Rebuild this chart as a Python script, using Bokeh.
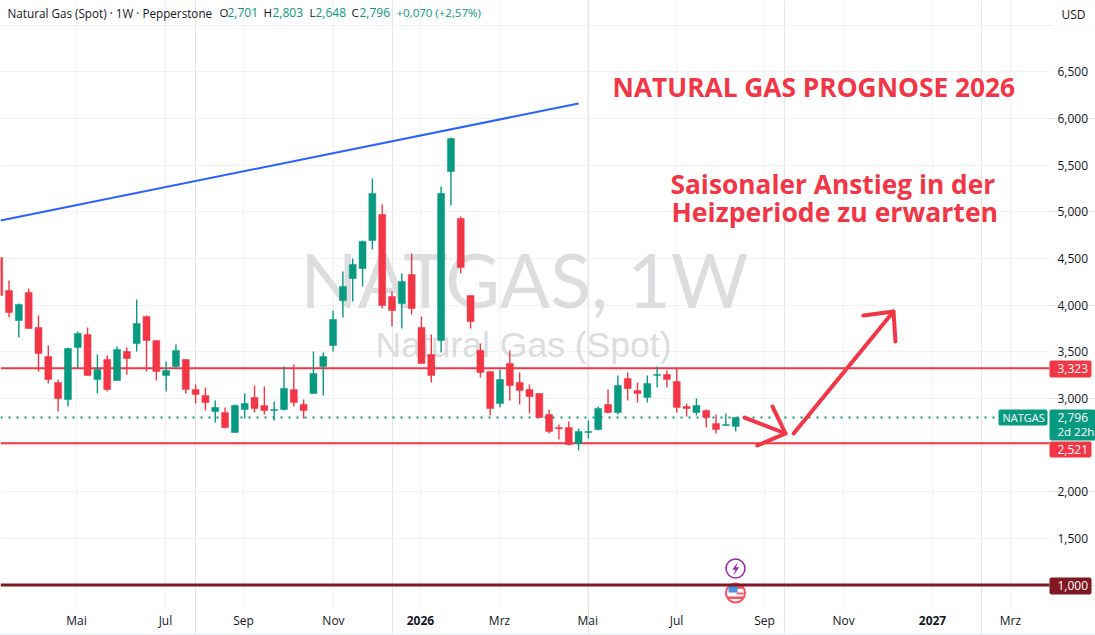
from bokeh.plotting import figure
from bokeh.models import (Label, BoxAnnotation, LinearAxis, FixedTicker, Range1d, Grid,
                          ColumnDataSource)
from bokeh.embed import file_html
from bokeh.resources import INLINE

FONT = "Open Sans"
GREEN = "#089981"
RED = "#f23645"
DARK = "#801922"

# Weekly candles, oldest first
opens = [4.511,4.158,3.836,4.136,3.761,3.450,3.171,2.989,3.547,3.686,3.204,3.418,3.193,3.504,3.590,3.879,3.622,3.247,3.343,3.418,
         3.096,3.032,2.861,2.850,2.636,2.882,3.011,2.925,2.871,2.882,3.096,2.936,3.054,3.343,3.568,4.050,4.286,4.393,4.694,4.972,
         4.093,4.018,4.329,3.761,3.472,3.622,5.433,4.929,4.104,3.515,3.289,2.946,3.375,3.172,3.096,3.054,2.828,2.689,2.689,2.518,
         2.636,2.668,2.936,2.850,3.214,3.086,3.011,3.247,3.257,3.182,2.914,2.850,2.871,2.732,2.711,2.701]
highs = [4.511,4.265,4.018,4.179,3.890,3.568,3.204,3.547,3.718,3.761,3.472,3.461,3.557,3.547,4.061,3.890,3.622,3.397,3.579,3.418,
         3.150,3.118,2.979,2.904,2.936,3.054,3.139,3.129,2.968,3.343,3.364,2.989,3.504,3.493,3.943,4.361,4.501,4.694,5.358,5.079,
         4.147,4.340,4.554,3.879,3.686,5.272,5.798,4.951,4.104,3.590,3.289,3.311,3.515,3.279,3.150,3.054,2.882,2.721,2.753,2.678,
         2.764,2.914,3.096,3.247,3.279,3.172,3.247,3.343,3.300,3.322,2.946,3.000,2.882,2.828,2.839,2.803]
lows = [4.104,3.872,3.654,3.750,3.289,3.161,2.861,2.914,3.322,3.247,3.054,3.075,3.193,3.257,3.504,3.289,3.193,3.075,3.322,3.054,
        2.946,2.871,2.743,2.678,2.636,2.786,2.850,2.828,2.764,2.871,2.914,2.786,3.054,3.032,3.504,3.868,4.040,4.201,4.597,3.965,
        3.772,3.750,3.900,3.375,3.172,3.493,5.069,4.340,3.750,3.225,2.818,2.904,2.979,2.936,2.839,2.786,2.625,2.561,2.496,2.443,
        2.571,2.657,2.839,2.828,2.979,2.957,2.957,3.118,3.118,2.850,2.807,2.818,2.689,2.625,2.711,2.648]
closes = [4.104,3.922,4.008,3.750,3.482,3.204,3.000,3.536,3.697,3.247,3.311,3.096,3.525,3.429,3.804,3.622,3.289,3.300,3.515,3.096,
          3.043,2.957,2.904,2.689,2.925,2.946,2.893,2.871,2.882,3.107,2.957,2.871,3.268,3.450,3.847,4.201,4.436,4.683,5.197,3.997,
          3.943,4.254,3.965,3.375,3.247,5.197,5.787,4.404,3.825,3.279,2.893,3.204,3.139,3.086,3.021,2.796,2.646,2.675,2.507,2.646,
          2.646,2.893,2.850,3.139,3.107,3.054,3.161,3.257,3.204,2.904,2.893,2.925,2.796,2.668,2.721,2.796]
weeks = list(range(len(opens)))

# Levels
resistance = 3.323
support = 2.521
floor_level = 1.000
last_price = 2.796

# Axis ticks
price_ticks = [1.0,1.5,2.0,2.5,3.0,3.5,4.0,4.5,5.0,5.5,6.0,6.5,7.0]
price_labels = {1.0:"",1.5:"1,500",2.0:"2,000",2.5:"",3.0:"3,000",3.5:"3,500",4.0:"4,000",4.5:"4,500",5.0:"5,000",
                5.5:"5,500",6.0:"6,000",6.5:"6,500",7.0:""}
month_ticks = [7.87,16.93,24.88,34.04,42.9,50.95,59.94,68.97,77.93,85.98,95.04,102.98]
month_labels = ["Mai","Jul","Sep","Nov","","Mrz","Mai","Jul","Sep","Nov","","Mrz"]
year_ticks = [42.9,95.04]
year_labels = ["2026","2027"]

# Drawings (week, price)
trend_x = [0.132,59.0]
trend_y = [4.908,6.162]
arrow_xs = [[75.9,80.07],[78.75,80.07,77.2],[80.9,91.07],[88.0,91.07,91.27]]
arrow_ys = [[2.796,2.625],[2.914,2.625,2.496],[2.625,3.932],[3.890,3.932,3.611]]

# Event markers
event_x = 74.98
bolt_event_y = 1.178
flag_event_y = 0.915
bolt_x = [75.25,74.65,74.98,74.75,75.35,75.02]
bolt_y = [1.250,1.165,1.165,1.100,1.190,1.190]
stripe_left = [75.1,75.1,74.2]
stripe_right = [75.8,75.8,75.8]
stripe_bottom = [0.960,0.900,0.851]
stripe_top = [0.987,0.920,0.878]
canton = [74.27,75.18,0.920,1.010]

W, H = 1095, 635
X0, X1 = 0.132, 111.64
Y0, Y1 = 0.4598, 7.266
X_SCALE_END = 106.95     # week at the left edge of the price scale
Y_SCALE_END = 0.7706     # price at the top edge of the time scale

p = figure(width=W, height=H, x_range=Range1d(X0, X1), y_range=Range1d(Y0, Y1),
           output_backend="svg", toolbar_location=None, x_axis_location=None, y_axis_location=None,
           min_border=0, background_fill_color="white", border_fill_color="white", outline_line_color=None)

yaxis = LinearAxis(ticker=FixedTicker(ticks=price_ticks), major_label_overrides=price_labels,
                   fixed_location=X_SCALE_END, major_tick_in=0, major_tick_out=0,
                   axis_line_color=None, major_tick_line_color=None, minor_tick_line_color=None,
                   major_label_text_font=FONT, major_label_text_font_size="12px",
                   major_label_text_color="#131722", major_label_standoff=8)
xaxis = LinearAxis(ticker=FixedTicker(ticks=month_ticks),
                   major_label_overrides=dict(zip(month_ticks, month_labels)),
                   fixed_location=Y_SCALE_END, major_tick_in=0, major_tick_out=0,
                   axis_line_color=None, major_tick_line_color=None, minor_tick_line_color=None,
                   major_label_text_font=FONT, major_label_text_font_size="12px",
                   major_label_text_color="#131722", major_label_standoff=5)
p.add_layout(yaxis, "right")
p.add_layout(xaxis, "below")

p.add_layout(Grid(dimension=0, ticker=xaxis.ticker, grid_line_color="#f1f2f4", grid_line_width=1,
                  cross_bounds=(Y_SCALE_END, Y1)))
p.add_layout(Grid(dimension=1, ticker=yaxis.ticker, grid_line_color="#f1f2f4", grid_line_width=1,
                  cross_bounds=(X0, X_SCALE_END)))

def sy(py):
    return H - py

def lab(text, px, py, size=12, color="#131722", align="left", bold=False, font=FONT, level="annotation", **kw):
    l = Label(x=px, y=sy(py), x_units="screen", y_units="screen", text=text, text_font=font,
              text_font_size=f"{size}px", text_color=color, text_align=align, text_baseline="middle",
              text_font_style="bold" if bold else "normal", level=level, **kw)
    p.add_layout(l)
    return l

# Watermark
lab("NATGAS, 1W", 524, 278, size=75, color="#dcddde", align="center", font="Lato", level="underlay")
lab("Natural Gas (Spot)", 523, 344, size=35.5, color="#dcddde", align="center", font="Liberation Sans", level="underlay")

# Levels below candles
p.segment(x0=[X0, X0], x1=[X_SCALE_END, X_SCALE_END], y0=[resistance, support], y1=[resistance, support],
          line_color=RED, line_width=2)
p.segment(x0=[X0], x1=[101.5], y0=[last_price], y1=[last_price], line_color=GREEN, line_width=2, line_dash="2 6")

# Candles
src = ColumnDataSource(dict(x=weeks, o=opens, h=highs, l=lows, c=closes,
                            col=[GREEN if c >= o else RED for o, c in zip(opens, closes)]))
p.segment("x", "h", "x", "l", source=src, line_color="col", line_width=1.4)
p.vbar("x", 0.71, "o", "c", source=src, fill_color="col", line_color="col", line_width=0.5)

# Trend and arrows
p.line(trend_x, trend_y, line_color="#2962ff", line_width=2)
p.multi_line(arrow_xs, arrow_ys, line_color=RED, line_width=4, line_cap="round", line_join="round")

# Event markers
p.scatter([event_x], [bolt_event_y], size=19, marker="circle", fill_color="white", line_color="#9c27b0", line_width=1.6)
p.patch(bolt_x, bolt_y, fill_color="#9c27b0", line_color=None)
p.scatter([event_x], [flag_event_y], size=19, marker="circle", fill_color="white", line_color="#f7525f", line_width=2)
p.quad(left=stripe_left, right=stripe_right, bottom=stripe_bottom, top=stripe_top, fill_color="#f7525f", line_color=None)
p.quad(left=[canton[0]], right=[canton[1]], bottom=[canton[2]], top=[canton[3]], fill_color="#4a90e2", line_color=None)
p.segment(x0=[X0], x1=[X_SCALE_END], y0=[floor_level], y1=[floor_level], line_color=DARK, line_width=3)

# Year labels on the time axis
for xv, t in zip(year_ticks, year_labels):
    p.add_layout(Label(x=xv, y=sy(620), x_units="data", y_units="screen", text=t, text_font=FONT,
                       text_font_size="12px", text_font_style="bold", text_color="#131722",
                       text_align="center", text_baseline="middle"))

# Header
lab("Natural Gas (Spot) · 1W · Pepperstone", 7, 12, size=11.7)
for t, x, c, s in [("O", 219, "#131722", 11.5), ("2,701", 227, GREEN, 12), ("H", 263, "#131722", 11.5), ("2,803", 272, GREEN, 12),
                   ("L", 309, "#131722", 11.5), ("2,648", 315, GREEN, 12), ("C", 351, "#131722", 11.5), ("2,796", 359, GREEN, 12),
                   ("+0,070 (+2,57%)", 396, GREEN, 11.5)]:
    lab(t, x, 12, color=c, size=s)

# Chart text
lab("NATURAL GAS PROGNOSE 2026", 612, 86, size=26.3, color=RED, bold=True)
lab("Saisonaler Anstieg in der", 670, 183.5, size=26.3, color=RED, bold=True)
lab("Heizperiode zu erwarten", 671, 211, size=26.6, color=RED, bold=True)

# Price scale tags
def tag(left, right, top, bottom, col, line=None):
    p.add_layout(BoxAnnotation(left=left, right=right, top=sy(top), bottom=sy(bottom),
                               left_units="screen", right_units="screen", top_units="screen", bottom_units="screen",
                               fill_color=col, fill_alpha=1, line_color=line, border_radius=2, level="overlay"))

tag(998, 1047, 409, 425, GREEN)
tag(1049, 1095, 409, 440, GREEN)
tag(1049, 1091, 360, 377, RED)
tag(1049, 1091, 441, 457, RED)
tag(1049, 1091, 577, 594, DARK)
tag(1052, 1097, 2, 28, "white", "#f0f3fa")
tag(0, 1095, 633, 635, "#f0f3fa")
lab("NATGAS", 1002, 416.5, size=11, color="white", level="overlay")
lab("2,796", 1057, 416.5, color="white", level="overlay")
lab("2d 22h", 1057, 431, size=11.5, color="white", level="overlay")
lab("3,323", 1057, 368, color="white", level="overlay")
lab("2,521", 1057, 448.5, color="white", level="overlay")
lab("1,000", 1057, 585, color="white", level="overlay")
lab("USD", 1061, 14, color="#131722", level="overlay")

open("out.html", "w").write(file_html(p, INLINE))
